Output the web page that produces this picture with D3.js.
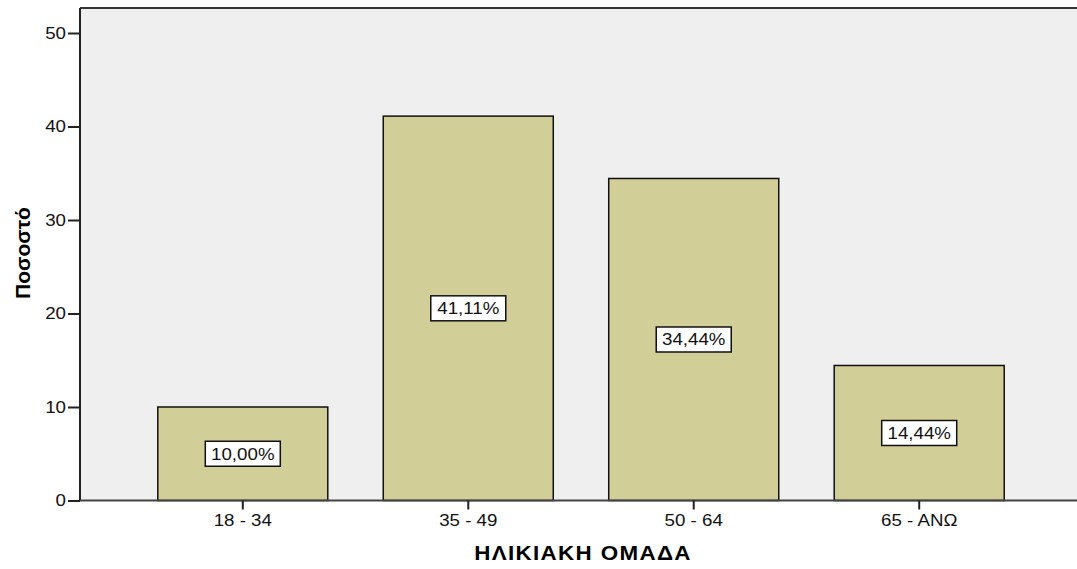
<!DOCTYPE html>
<html>
<head>
<meta charset="utf-8">
<script src="https://cdn.jsdelivr.net/npm/d3@7"></script>
<style>
  body { margin: 0; background: #fff; }
  svg { display: block; font-family: "Liberation Sans", Arial, sans-serif; }
</style>
</head>
<body>
<div id="root"></div>
<script>
const categories = ["18 - 34", "35 - 49", "50 - 64", "65 - ΑΝΩ"];
const values = [10.0, 41.11, 34.44, 14.44];
const labels = ["10,00%", "41,11%", "34,44%", "14,44%"];
const yTicks = [0, 10, 20, 30, 40, 50];

const width = 1077;
const height = 569;
const stretch = 1.17; // text in the original is drawn a bit wide

const svg = d3.select("#root")
  .append("svg")
  .attr("width", width)
  .attr("height", height);

const plotLeft = 80, plotTop = 8, plotBottom = 500.5;

const x = d3.scaleBand()
  .domain(categories)
  .range([plotLeft, 1082])
  .paddingInner(0.246)
  .paddingOuter(0.345);

const y = d3.scaleLinear()
  .domain([0, 50])
  .range([plotBottom, 33]);

// Plot background
svg.append("rect")
  .attr("x", plotLeft)
  .attr("y", plotTop)
  .attr("width", width - plotLeft + 5)
  .attr("height", plotBottom - plotTop)
  .attr("fill", "#efefef");

svg.append("line")
  .attr("x1", plotLeft).attr("x2", width)
  .attr("y1", plotTop).attr("y2", plotTop)
  .attr("stroke", "#333").attr("stroke-width", 2);

// Bars
svg.selectAll("rect.bar")
  .data(values)
  .join("rect")
  .attr("class", "bar")
  .attr("x", (d, i) => x(categories[i]))
  .attr("y", (d) => y(d))
  .attr("width", x.bandwidth())
  .attr("height", (d) => y(0) - y(d))
  .attr("fill", "#d2ce98")
  .attr("stroke", "#111")
  .attr("stroke-width", 1.5);

// Axes
const yAxis = d3.axisLeft(y).tickValues(yTicks).tickSize(12);
const yg = svg.append("g")
  .attr("transform", `translate(${plotLeft},0)`)
  .call(yAxis);
yg.select(".domain").attr("d", `M0,${plotTop}V${plotBottom}`).attr("stroke", "#222").attr("stroke-width", 2);
yg.selectAll(".tick line").attr("stroke", "#222").attr("stroke-width", 2);
yg.selectAll(".tick text")
  .attr("x", 0)
  .attr("transform", `translate(-14,0) scale(${stretch},1)`)
  .attr("font-size", 16)
  .attr("fill", "#111");

const xAxis = d3.axisBottom(x).tickSize(0);
const xg = svg.append("g")
  .attr("transform", `translate(0,${plotBottom})`)
  .call(xAxis);
xg.select(".domain").attr("d", `M${plotLeft},0H${width}`).attr("stroke", "#444").attr("stroke-width", 2);
xg.selectAll(".tick line").attr("y1", 0).attr("y2", 9).attr("stroke", "#222").attr("stroke-width", 2);
xg.selectAll(".tick text")
  .attr("y", 0)
  .attr("dy", null)
  .attr("transform", `translate(0,25) scale(${stretch},1)`)
  .attr("font-size", 16)
  .attr("fill", "#111");

// Value labels
const lab = svg.selectAll("g.lab")
  .data(values)
  .join("g")
  .attr("class", "lab")
  .attr("transform", (d, i) => `translate(${x(categories[i]) + x.bandwidth() / 2},${y(d / 2)})`);

lab.append("rect")
  .attr("x", -37.5)
  .attr("y", -12.5)
  .attr("width", 75)
  .attr("height", 25)
  .attr("fill", "#fff")
  .attr("stroke", "#111")
  .attr("stroke-width", 1.5);

lab.append("text")
  .attr("text-anchor", "middle")
  .attr("dy", "0.36em")
  .attr("transform", `scale(${stretch},1)`)
  .attr("font-size", 16)
  .attr("fill", "#111")
  .text((d, i) => labels[i]);

// Titles
svg.append("text")
  .attr("transform", `translate(583,560) scale(1.12,1)`)
  .attr("text-anchor", "middle")
  .attr("font-size", 20)
  .attr("font-weight", "bold")
  .attr("letter-spacing", 1.2)
  .attr("fill", "#000")
  .text("ΗΛΙΚΙΑΚΗ ΟΜΑΔΑ");

svg.append("text")
  .attr("transform", "translate(30,253) rotate(-90)")
  .attr("text-anchor", "middle")
  .attr("font-size", 21)
  .attr("font-weight", "bold")
  .attr("fill", "#000")
  .text("Ποσοστό");
</script>
</body>
</html>
